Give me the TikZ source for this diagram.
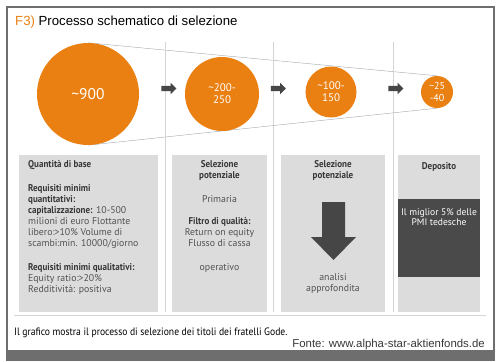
\documentclass[tikz,border=0pt]{standalone}
\usepackage{fontspec}
\setmainfont{Liberation Sans}
\newfontfamily\condfont[BoldFeatures={FakeStretch=0.92}]{PT Sans}
\newfontfamily\narrowfont[FakeStretch=0.9]{PT Sans}
\definecolor{dotorange}{RGB}{234, 128, 18}
\definecolor{boxgray}{RGB}{220, 220, 220}
\definecolor{darkbox}{RGB}{74, 74, 74}
\definecolor{textgray}{RGB}{82, 82, 82}
\definecolor{headgray}{RGB}{55, 55, 55}
\definecolor{rulegray}{RGB}{212, 212, 212}
\definecolor{framegray}{RGB}{110, 110, 110}
\definecolor{funnelgray}{RGB}{160, 166, 174}
\definecolor{arrowgray}{RGB}{70, 70, 70}
\usetikzlibrary{shapes.arrows, backgrounds}
\newcommand{\boxhead}[1]{{\bfseries\color{headgray}#1}}

\begin{document}
\begin{tikzpicture}[x=1pt, y=-1pt,
  dot/.style={circle, fill=dotorange, text=white, inner sep=0pt, align=center, font=\condfont\fontsize{11}{12}\selectfont},
  colbox/.style={fill=boxgray, inner sep=0pt, minimum height=157pt},
  boxtext/.style={text=textgray, inner sep=0pt, font=\condfont\fontsize{9.8}{11}\selectfont},
  stepsign/.style={single arrow, fill=arrowgray, minimum height=15pt, inner xsep=0pt, inner ysep=2.5pt, text height=0pt, text depth=0pt, single arrow head extend=3pt}]
  \useasboundingbox (0,0) rectangle (502,361);

  % Frame
  \draw[framegray, line width=1.2pt] (7,7) rectangle (494,351);
  \fill[framegray] (6,351) rectangle (495,361);

  % Title
  \node[anchor=base west, inner sep=0pt, font=\fontsize{13.2}{15}\selectfont] (title) at (15,26) {\textcolor{dotorange}{F3)} Processo schematico di selezione};

  % Column rules
  \draw[rulegray, thin] (165,42) -- (165,312);
  \draw[rulegray, thin] (273,42) -- (273,312);
  \draw[rulegray, thin] (393,42) -- (393,312);
  \draw[rulegray, thin] (14,315) -- (486,315);

  % Circles
  \node[dot, minimum size=102pt, font=\condfont\fontsize{15.5}{17}\selectfont] (c1) at (88,94) {\textasciitilde 900};
  \node[dot, minimum size=74pt] (c2) at (222,94) {\textasciitilde 200-\\250};
  \node[dot, minimum size=51pt] (c3) at (331,92) {\textasciitilde 100-\\150};
  \node[dot, minimum size=32pt, font=\condfont\fontsize{10}{12}\selectfont] (c4) at (437,92) {\textasciitilde 25\\-40};

  % Funnel
  \begin{scope}[on background layer]
    \draw[funnelgray, thin] (c1.north) -- (c4.north);
    \draw[funnelgray, thin] (c1.south) -- (c4.south);
  \end{scope}

  % Step arrows
  \node[stepsign] (s1) at (167.5,88.5) {};
  \node[stepsign] (s2) at (277,88.5) {};
  \node[stepsign] (s3) at (394.5,88.5) {};

  % Columns
  \node[colbox, minimum width=139pt] (b1) at (88.5,233.5) {};
  \node[colbox, minimum width=95pt] (b2) at (219.5,233.5) {};
  \node[colbox, minimum width=104pt] (b3) at (333,233.5) {};
  \node[colbox, minimum width=82pt] (b4) at (439,233.5) {};
  \node[fill=darkbox, inner sep=0pt, minimum width=82pt, minimum height=78pt] (dep) at (439,238) {};

  % Column texts
  \node[boxtext, anchor=north west, align=left] (t1) at (28,160) {\boxhead{Quantità di base}\\[13pt]
    \boxhead{Requisiti minimi}\\ \boxhead{quantitativi:}\\ \boxhead{capitalizzazione:} 10-500\\
    milioni di euro Flottante\\ libero:>10\% Volume di\\ scambi:min. 10000/giorno\\[13pt]
    \boxhead{Requisiti minimi qualitativi:}\\ Equity ratio:>20\%\\ Redditività: positiva};
  \node[boxtext, anchor=north, align=center] (t2) at (219.5,160) {\boxhead{Selezione}\\ \boxhead{potenziale}\\[13pt]
    Primaria\\[11pt] \boxhead{Filtro di qualità:}\\ Return on equity\\ Flusso di cassa\\[13pt] operativo};
  \node[boxtext, anchor=north, align=center] (t3) at (333,160) {\boxhead{Selezione}\\ \boxhead{potenziale}};
  \node[boxtext, anchor=north, align=center] (t3b) at (333,273) {analisi\\ approfondita};
  \node[boxtext, anchor=north] (t4) at (439,162) {\boxhead{Deposito}};
  \node[boxtext, text=white, anchor=north, align=center, font=\condfont\fontsize{9.6}{10}\selectfont] (t5) at (439,208) {Il miglior 5\% delle\\ PMI tedesche};

  % Big arrow
  \fill[arrowgray] (322,202) -- (345,202) -- (345,237) -- (356,237) -- (333.5,260) -- (311,237) -- (322,237) -- cycle;

  % Footer
  \node[anchor=base west, inner sep=0pt, font=\narrowfont\fontsize{10.7}{12}\selectfont] (cap) at (14,335) {Il grafico mostra il processo di selezione dei titoli dei fratelli Gode.};
  \node[anchor=base east, inner sep=0pt, text=headgray, font=\fontsize{11.4}{13}\selectfont] (src) at (485,347) {Fonte: www.alpha-star-aktienfonds.de};
\end{tikzpicture}
\end{document}
